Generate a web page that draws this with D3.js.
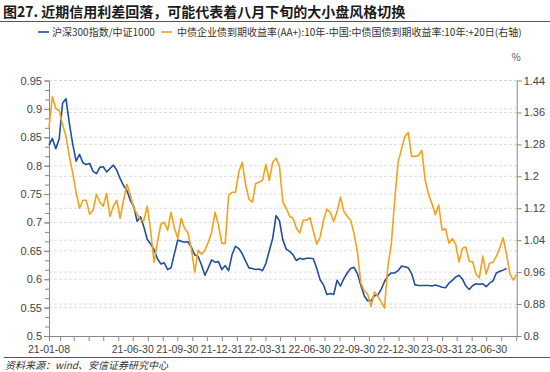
<!DOCTYPE html>
<html><head><meta charset="utf-8">
<script src="https://cdn.jsdelivr.net/npm/d3@7"></script>
<style>
body{margin:0;background:#fff;}
svg{display:block;font-family:"Noto Sans CJK SC","Noto Sans",sans-serif;}
</style>
</head><body>
<svg id="c" width="550" height="372"></svg>
<script>
// ---- data (weekly readings) ----
const dates = [
"2021-01-08","2021-01-15","2021-01-22","2021-01-29","2021-02-05","2021-02-12","2021-02-19","2021-02-26","2021-03-05","2021-03-12","2021-03-19","2021-03-26","2021-04-02","2021-04-09","2021-04-16","2021-04-23","2021-04-30","2021-05-07","2021-05-14","2021-05-21","2021-05-28","2021-06-04","2021-06-11","2021-06-18","2021-06-25","2021-07-02","2021-07-09","2021-07-16","2021-07-23","2021-07-30","2021-08-06","2021-08-13","2021-08-20","2021-08-27","2021-09-03","2021-09-10","2021-09-17","2021-09-24","2021-10-01","2021-10-08","2021-10-15","2021-10-22","2021-10-29","2021-11-05","2021-11-12","2021-11-19","2021-11-26","2021-12-03","2021-12-10","2021-12-17","2021-12-24","2021-12-31",
"2022-01-07","2022-01-14","2022-01-21","2022-01-28","2022-02-04","2022-02-11","2022-02-18","2022-02-25","2022-03-04","2022-03-11","2022-03-18","2022-03-25","2022-04-01","2022-04-08","2022-04-15","2022-04-22","2022-04-29","2022-05-06","2022-05-13","2022-05-20","2022-05-27","2022-06-03","2022-06-10","2022-06-17","2022-06-24","2022-07-01","2022-07-08","2022-07-15","2022-07-22","2022-07-29","2022-08-05","2022-08-12","2022-08-19","2022-08-26","2022-09-02","2022-09-09","2022-09-16","2022-09-23","2022-09-30","2022-10-07","2022-10-14","2022-10-21","2022-10-28","2022-11-04","2022-11-11","2022-11-18","2022-11-25","2022-12-02","2022-12-09","2022-12-16","2022-12-23","2022-12-30",
"2023-01-06","2023-01-13","2023-01-20","2023-01-27","2023-02-03","2023-02-10","2023-02-17","2023-02-24","2023-03-03","2023-03-10","2023-03-17","2023-03-24","2023-03-31","2023-04-07","2023-04-14","2023-04-21","2023-04-28","2023-05-05","2023-05-12","2023-05-19","2023-05-26","2023-06-02","2023-06-09","2023-06-16","2023-06-23","2023-06-30","2023-07-07","2023-07-14","2023-07-21","2023-07-28","2023-08-04","2023-08-11","2023-08-18","2023-08-25","2023-09-01"
];
// 沪深300指数/中证1000 (left axis)
const ratioHS300CSI1000 = [
.836,.848,.830,.847,.910,.918,.875,.838,.808,.820,
.805,.802,.804,.790,.786,.797,.798,.789,.795,.801,
.792,.777,.765,.756,.739,.728,.702,.710,.692,.670,
.662,.652,.636,.627,.629,.617,.620,.645,.669,.667,
.665,.666,.656,.643,.640,.625,.607,.620,.634,.630,
.631,.617,.624,.615,.643,.658,.654,.645,.632,.620,
.619,.617,.618,.615,.628,.650,.672,.712,.703,.669,
.653,.649,.643,.633,.637,.635,.637,.637,.636,.619,
.599,.590,.573,.575,.573,.598,.588,.601,.611,.619,
.621,.610,.590,.571,.562,.562,.571,.572,.582,.596,
.606,.611,.611,.615,.623,.622,.620,.610,.590,.589,
.589,.589,.589,.588,.590,.588,.586,.585,.593,.598,
.604,.607,.600,.588,.582,.589,.592,.591,.592,.587,
.593,.597,.611,.614,.616,.619,null,null,null
];
// 中债企业债(AA+)10年 - 中债国债10年, +20日 (right axis, %)
const creditSpreadAAplus10Y = [
1.323,1.40,1.37,1.365,1.33,1.30,1.25,1.208,1.16,1.12,
1.14,1.14,1.105,1.115,1.155,1.135,1.125,1.157,1.10,1.125,
1.14,1.095,1.14,1.18,1.153,1.12,1.105,1.09,1.09,1.125,
1.063,0.985,1.035,1.08,1.085,1.065,1.11,1.07,1.045,1.095,
1.07,1.058,1.018,0.96,1.015,1.005,1.015,1.035,1.06,1.11,
1.078,1.032,1.032,1.153,1.16,1.16,1.21,1.235,1.18,1.143,
1.135,1.182,1.185,1.19,1.23,1.19,1.235,1.245,1.225,1.135,
1.12,1.10,1.095,1.07,1.058,1.09,1.09,1.096,1.063,1.03,
1.048,1.09,1.118,1.11,1.087,1.111,1.148,1.112,1.10,1.09,
1.057,1.01,0.933,0.913,0.905,0.874,0.91,0.90,0.886,0.87,
0.975,1.03,1.14,1.235,1.268,1.30,1.31,1.25,1.25,1.252,
1.265,1.19,1.155,1.131,1.104,1.128,1.065,1.069,1.032,1.044,
1.03,0.985,1.02,1.023,0.987,0.986,0.955,0.946,1.00,0.955,
0.982,0.985,1.00,1.02,1.046,1.005,0.955,0.94,0.955
];
const leftTicks = [0.5,0.55,0.6,0.65,0.7,0.75,0.8,0.85,0.9,0.95];
const rightTicks = [0.8,0.88,0.96,1.04,1.12,1.2,1.28,1.36,1.44];
const xLabels = ["21-01-08","21-06-30","21-09-30","21-12-31","22-03-31","22-06-30","22-09-30","22-12-30","23-03-31","23-06-30"];
const seriesNames = ["沪深300指数/中证1000","中债企业债到期收益率(AA+):10年-中国:中债国债到期收益率:10年:+20日(右轴)"];
const colors = ["#1f4f9e","#f5a11c"];

// ---- layout ----
const svg = d3.select("#c");
const L = 49, R = 516.7, T = 80.5, B = 336;
const parse = d3.timeParse("%Y-%m-%d");
const D = dates.map(parse);
const x = d3.scaleTime().domain([parse("2021-01-08"), parse("2023-09-01")]).range([L, R]);
const yL = d3.scaleLinear().domain([0.5, 0.95]).range([B, T]);
const yR = d3.scaleLinear().domain([0.8, 1.44]).range([B, T]);
const numFont = "'Liberation Sans','DejaVu Sans',sans-serif";

// title
svg.append("text").attr("x", 3).attr("y", 17).attr("font-size", 14).attr("font-weight", 700)
  .attr("fill", "#1a1a1a").text("图27. 近期信用利差回落，可能代表着八月下旬的大小盘风格切换");
svg.append("line").attr("x1", 0).attr("x2", 550).attr("y1", 21.5).attr("y2", 21.5)
  .attr("stroke", "#555").attr("stroke-width", 1.2);

// legend
const lg = svg.append("g").attr("font-size", 10).attr("fill", "#333");
lg.append("line").attr("x1", 38).attr("x2", 49).attr("y1", 32).attr("y2", 32).attr("stroke", colors[0]).attr("stroke-width", 1.6);
lg.append("text").attr("x", 52).attr("y", 35.5).text(seriesNames[0]);
lg.append("line").attr("x1", 161).attr("x2", 172).attr("y1", 32).attr("y2", 32).attr("stroke", colors[1]).attr("stroke-width", 1.6);
lg.append("text").attr("x", 177).attr("y", 35.5).text(seriesNames[1]);

// gridlines
const grid = svg.append("g").attr("stroke", "#d4d4d4").attr("stroke-dasharray", "3,2").attr("stroke-width", 0.8);
leftTicks.filter(d => d > 0.5).forEach(d => grid.append("line").attr("x1", L).attr("x2", R).attr("y1", yL(d)).attr("y2", yL(d)));
rightTicks.filter(d => d > 0.8).forEach(d => grid.append("line").attr("x1", L).attr("x2", R).attr("y1", yR(d)).attr("y2", yR(d)));

// axes
function styleAxis(g){
  g.select(".domain").attr("stroke", "#888");
  g.selectAll(".tick line").attr("stroke", "#888");
  g.selectAll(".tick text").attr("fill", "#444").attr("font-size", 11).attr("font-family", numFont);
}
const fmt = d => String(+d.toFixed(2));
const minorL = d3.range(0, 28).map(i => 0.5 + i * 0.05 / 3);
svg.append("g").attr("transform", `translate(${L},0)`)
  .call(d3.axisLeft(yL).tickValues(minorL).tickSize(4).tickFormat("").tickSizeOuter(0)).call(styleAxis);
svg.append("g").attr("transform", `translate(${L},0)`)
  .call(d3.axisLeft(yL).tickValues(leftTicks).tickSize(5).tickPadding(2).tickFormat(fmt).tickSizeOuter(0)).call(styleAxis);
svg.append("g").attr("transform", `translate(${R},0)`)
  .call(d3.axisRight(yR).tickValues(rightTicks).tickSize(5).tickPadding(2).tickFormat(fmt).tickSizeOuter(0)).call(styleAxis);
const monthEnds = d3.timeMonth.range(parse("2021-02-01"), parse("2023-09-02")).map(d => d3.timeDay.offset(d, -1));
svg.append("g").attr("transform", `translate(0,${B})`)
  .call(d3.axisBottom(x).tickValues([parse("2021-01-08")].concat(monthEnds)).tickSize(5).tickFormat("").tickSizeOuter(0)).call(styleAxis);
const xl = svg.append("g").attr("font-size", 10.5).attr("fill", "#444").attr("text-anchor", "middle")
  .attr("font-family", numFont);
xLabels.forEach(s => xl.append("text").attr("x", x(parse("20" + s))).attr("y", 353).text(s));

// % unit
svg.append("text").attr("x", 516).attr("y", 61).attr("font-size", 10).attr("fill", "#555").attr("text-anchor", "middle").text("%");

// lines
const lineL = d3.line().defined(d => d[1] != null).x(d => x(d[0])).y(d => yL(d[1]));
const lineR = d3.line().defined(d => d[1] != null).x(d => x(d[0])).y(d => yR(d[1]));
svg.append("path").datum(D.map((d, i) => [d, ratioHS300CSI1000[i]])).attr("d", lineL)
  .attr("fill", "none").attr("stroke", colors[0]).attr("stroke-width", 1.6).attr("stroke-linejoin", "round");
svg.append("path").datum(D.map((d, i) => [d, creditSpreadAAplus10Y[i]])).attr("d", lineR)
  .attr("fill", "none").attr("stroke", colors[1]).attr("stroke-width", 1.6).attr("stroke-linejoin", "round");

// footer
svg.append("line").attr("x1", 4).attr("x2", 550).attr("y1", 357.5).attr("y2", 357.5).attr("stroke", "#555").attr("stroke-width", 1);
svg.append("text").attr("x", 5).attr("y", 369).attr("font-size", 10).attr("font-style", "italic").attr("fill", "#333")
  .text("资料来源：wind、安信证券研究中心");
</script>
</body></html>
